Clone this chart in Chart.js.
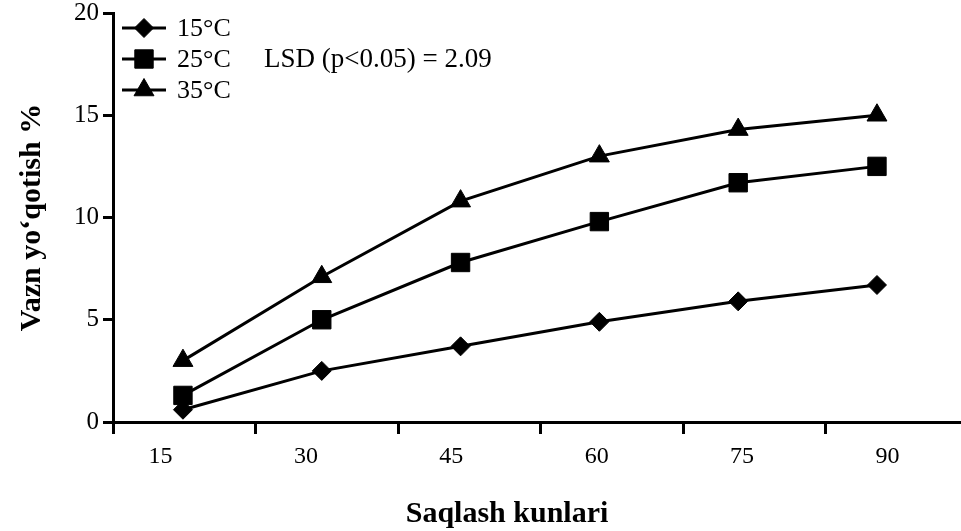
<!DOCTYPE html>
<html lang="uz">
<head>
    <meta charset="UTF-8">
    <title>Vazn yoʻqotish</title>
    <script src="https://cdn.jsdelivr.net/npm/chart.js@4.4.1/dist/chart.umd.min.js"></script>
    <style>
        body {
            margin: 0;
            background: #fff;
        }
        #wrap {
            width: 961px;
            height: 531px;
        }
    </style>
</head>
<body>
    <div id="wrap">
        <canvas id="chart" width="961" height="531"></canvas>
    </div>

    <script>
        // Storage days and weight loss (%)
        const days = [15, 30, 45, 60, 75, 90];
        const loss15 = [0.6, 2.5, 3.7, 4.9, 5.9, 6.7];
        const loss25 = [1.3, 5.0, 7.8, 9.8, 11.7, 12.5];
        const loss35 = [3.0, 7.1, 10.8, 13.0, 14.3, 15.0];
        const seriesNames = ['15°C', '25°C', '35°C'];
        const xTickLabels = ['15', '30', '45', '60', '75', '90'];
        const yTicks = [0, 5, 10, 15, 20];
        const lsdText = 'LSD (p<0.05) = 2.09';
        const xTitle = 'Saqlash kunlari';

        const serif = 'Liberation Serif';

        function toPoints(values) {
            return days.map((d, i) => ({ x: d, y: values[i] }));
        }

        function series(label, values, style, radius) {
            return {
                label: label,
                data: toPoints(values),
                xAxisID: 'xd',
                borderColor: '#000',
                backgroundColor: '#000',
                borderWidth: 3,
                tension: 0,
                pointStyle: style,
                pointRadius: radius,
                pointHoverRadius: radius,
                pointBorderWidth: 1,
                pointBackgroundColor: '#000',
                pointBorderColor: '#000'
            };
        }

        function noPadding(s) {
            s.paddingLeft = 0;
            s.paddingRight = 0;
            s.paddingTop = 0;
            s.paddingBottom = 0;
        }

        // legend in the upper left corner of the plot, LSD note, x title
        const insideLegend = {
            id: 'insideLegend',
            afterDatasetsDraw(chart) {
                const ctx = chart.ctx;
                const area = chart.chartArea;
                const rows = [15, 46, 77];
                ctx.save();
                ctx.fillStyle = '#000';
                ctx.strokeStyle = '#000';
                ctx.textAlign = 'left';
                ctx.textBaseline = 'middle';
                chart.data.datasets.forEach((ds, i) => {
                    const y = area.top + rows[i];
                    const x0 = area.left + 9;
                    const x1 = area.left + 53;
                    ctx.lineWidth = 3;
                    ctx.beginPath();
                    ctx.moveTo(x0, y);
                    ctx.lineTo(x1, y);
                    ctx.stroke();
                    ctx.lineWidth = 1;
                    Chart.helpers.drawPoint(ctx, {
                        pointStyle: ds.pointStyle,
                        radius: ds.pointRadius,
                        rotation: 0,
                        borderWidth: 1
                    }, (x0 + x1) / 2, y);
                    ctx.font = '26px "' + serif + '"';
                    ctx.fillText(ds.label, area.left + 64, y + 1);
                });
                ctx.font = '27px "' + serif + '"';
                ctx.fillText(lsdText, area.left + 151, area.top + rows[1] + 1);

                ctx.font = 'bold 30px "' + serif + '"';
                ctx.textAlign = 'center';
                ctx.fillText(xTitle, 507, 514);
                ctx.restore();
            }
        };

        new Chart(document.getElementById('chart'), {
            type: 'line',
            data: {
                datasets: [
                    series(seriesNames[0], loss15, 'rectRot', 9.5),
                    series(seriesNames[1], loss25, 'rect', 13),
                    series(seriesNames[2], loss35, 'triangle', 11.5)
                ]
            },
            options: {
                responsive: false,
                animation: false,
                layout: {
                    autoPadding: false,
                    padding: { top: 13, right: 0, bottom: 0, left: 0 }
                },
                plugins: {
                    legend: { display: false },
                    tooltip: { enabled: false }
                },
                scales: {
                    // data axis (hidden)
                    xd: {
                        type: 'linear',
                        position: 'bottom',
                        display: false,
                        min: 7.44,
                        max: 99.08
                    },
                    // axis line with tick marks
                    xt: {
                        type: 'linear',
                        position: 'bottom',
                        weight: 0,
                        min: 0,
                        max: 5.947,
                        afterBuildTicks: s => {
                            s.ticks = xTickLabels.map((t, i) => ({ value: i }));
                        },
                        afterFit: s => { s.height = 12; noPadding(s); },
                        ticks: { display: false },
                        grid: {
                            drawOnChartArea: false,
                            tickLength: 12,
                            tickWidth: 3,
                            tickColor: '#000'
                        },
                        border: { color: '#000', width: 3 }
                    },
                    // tick labels
                    xl: {
                        type: 'linear',
                        position: 'bottom',
                        weight: 1,
                        min: 10.1,
                        max: 97.58,
                        afterBuildTicks: s => {
                            s.ticks = days.map(d => ({ value: d }));
                        },
                        afterFit: s => { s.height = 97; noPadding(s); },
                        grid: { display: false },
                        border: { display: false },
                        ticks: {
                            padding: 0,
                            color: '#000',
                            maxRotation: 0,
                            font: { family: serif, size: 24 },
                            callback: (v, i) => xTickLabels[i]
                        }
                    },
                    y: {
                        type: 'linear',
                        position: 'left',
                        min: yTicks[0],
                        max: yTicks[yTicks.length - 1],
                        afterBuildTicks: s => {
                            s.ticks = yTicks.map(v => ({ value: v }));
                        },
                        afterFit: s => { s.width = 113; noPadding(s); },
                        grid: {
                            drawOnChartArea: false,
                            tickLength: 10,
                            tickWidth: 3,
                            tickColor: '#000'
                        },
                        border: { color: '#000', width: 3 },
                        ticks: {
                            padding: 4,
                            color: '#000',
                            font: { family: serif, size: 25 }
                        },
                        title: {
                            display: true,
                            text: 'Vazn yoʻqotish %',
                            color: '#000',
                            font: { family: serif, size: 30, weight: 'bold' },
                            padding: { top: 14, bottom: 0 }
                        }
                    }
                }
            },
            plugins: [insideLegend]
        });
    </script>
</body>
</html>
